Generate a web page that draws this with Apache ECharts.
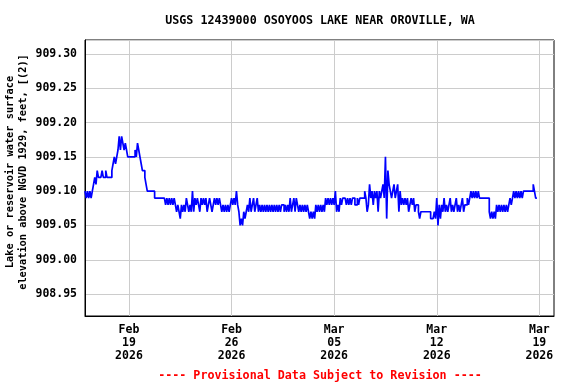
<!DOCTYPE html>
<html>
<head>
<meta charset="utf-8">
<script src="https://cdn.jsdelivr.net/npm/echarts@6/dist/echarts.min.js"></script>
<style>html,body{margin:0;padding:0;background:#fff}#c{width:576px;height:384px}</style>
</head>
<body>
<div id="c"></div>
<script>
// ---- DATA (2-hour readings, starting 2026-02-16 00:00) ----
const seriesStart = '2026-02-16';
const stepHours = 2;
const feb16_22 = [
909.10,909.09,909.10,909.09,909.10,909.09,909.10,909.11,909.12,909.11,909.13,909.12,
909.12,909.12,909.13,909.12,909.12,909.13,909.12,909.12,909.12,909.12,909.13,909.14,
909.15,909.14,909.15,909.16,909.18,909.16,909.18,909.17,909.16,909.17,909.16,909.15,
909.15,909.15,909.15,909.15,909.15,909.16,909.15,909.17,909.16,909.15,909.14,909.13,
909.13,909.12,909.11,909.10,909.10,909.10,909.10,909.10,909.10,909.09,909.09,909.09,
909.09,909.09,909.09,909.09,909.09,909.09,909.08,909.09,909.08,909.09,909.08,909.09,
909.08,909.09,909.08,909.07,909.08,909.07,909.06,909.08,909.07,909.08,909.07,909.09
];
const feb23_mar01 = [
909.08,909.07,909.08,909.07,909.10,909.07,909.09,909.08,909.09,909.08,909.07,909.09,
909.08,909.09,909.08,909.09,909.07,909.08,909.09,909.08,909.07,909.08,909.09,909.08,
909.09,909.08,909.09,909.08,909.07,909.08,909.07,909.08,909.07,909.08,909.07,909.08,
909.09,909.08,909.09,909.08,909.10,909.08,909.07,909.05,909.06,909.05,909.07,909.06,
909.07,909.08,909.07,909.09,909.07,909.08,909.09,909.07,909.08,909.09,909.07,909.08,
909.07,909.08,909.07,909.08,909.07,909.08,909.07,909.08,909.07,909.08,909.07,909.08,
909.07,909.08,909.07,909.08,909.07,909.08,909.08,909.07,909.08,909.07,909.08,909.07
];
const mar02_08 = [
909.09,909.07,909.08,909.09,909.07,909.09,909.08,909.07,909.08,909.07,909.08,909.07,
909.08,909.07,909.08,909.07,909.06,909.07,909.06,909.07,909.06,909.08,909.07,909.08,
909.07,909.08,909.07,909.08,909.07,909.09,909.08,909.09,909.08,909.09,909.08,909.09,
909.08,909.10,909.07,909.08,909.07,909.09,909.08,909.09,909.09,909.09,909.08,909.09,
909.08,909.09,909.08,909.09,909.09,909.08,909.08,909.09,909.08,909.09,909.09,909.09,
909.09,909.10,909.09,909.07,909.08,909.11,909.09,909.10,909.08,909.10,909.09,909.10,
909.07,909.10,909.09,909.10,909.11,909.09,909.15,909.06,909.13,909.11,909.10,909.09
];
const mar09_15 = [
909.10,909.11,909.09,909.10,909.11,909.07,909.10,909.08,909.09,909.08,909.09,909.08,
909.09,909.07,909.08,909.09,909.08,909.09,909.07,909.08,909.08,909.07,909.06,909.07,
909.07,909.07,909.07,909.07,909.07,909.07,909.07,909.06,909.06,909.06,909.07,909.06,
909.09,909.05,909.08,909.06,909.08,909.07,909.09,909.07,909.08,909.07,909.08,909.09,
909.07,909.08,909.07,909.08,909.09,909.07,909.08,909.07,909.08,909.09,909.07,909.08,
909.08,909.09,909.08,909.09,909.10,909.09,909.10,909.09,909.10,909.09,909.10,909.09,
909.09,909.09,909.09,909.09,909.09,909.09,909.09,909.07,909.06,909.07,909.06,909.07
];
const mar16_18 = [
909.06,909.08,909.07,909.08,909.07,909.08,909.07,909.08,909.07,909.08,909.07,909.08,
909.09,909.08,909.09,909.10,909.09,909.10,909.09,909.10,909.09,909.10,909.09,909.10,
909.10,909.10,909.10,909.10,909.10,909.10,909.10,909.11,909.10,909.09,909.09
];
const axisEnd = '2026-03-20';
const tickDates = ['2026-02-19','2026-02-26','2026-03-05','2026-03-12','2026-03-19'];
const yMin = 908.918, yMax = 909.3204;
const titleText = 'USGS 12439000 OSOYOOS LAKE NEAR OROVILLE, WA';
const footerText = '---- Provisional Data Subject to Revision ----';
const yName = 'Lake or reservoir water surface\nelevation above NGVD 1929, feet, [(2)]';

// ---- build ----
const values = [].concat(feb16_22, feb23_mar01, mar02_08, mar09_15, mar16_18);
const t0 = Date.parse(seriesStart + 'T00:00:00Z');
const t1 = Date.parse(axisEnd + 'T00:00:00Z');
const cats = [];
for (let t = t0; t <= t1; t += stepHours * 3600e3) {
  cats.push(new Date(t).toISOString().slice(0, 16));
}
const MON = ['Jan','Feb','Mar','Apr','May','Jun','Jul','Aug','Sep','Oct','Nov','Dec'];
const isTick = (idx, v) => v.endsWith('T00:00') && tickDates.indexOf(v.slice(0, 10)) >= 0;
const FONT = 'DejaVu Sans Mono';

const chart = echarts.init(document.getElementById('c'), null, {renderer: 'canvas'});
chart.setOption({
  animation: false,
  backgroundColor: '#ffffff',
  title: [
    {text: titleText, left: 315, top: 10, textAlign: 'center',
     textStyle: {fontFamily: FONT, fontWeight: 'bold', fontSize: 11.7, color: '#000'}},
    {text: footerText, left: 315, top: 365, textAlign: 'center',
     textStyle: {fontFamily: FONT, fontWeight: 'bold', fontSize: 11.7, color: '#ff0000'}}
  ],
  grid: {left: 85, right: 22, top: 40, bottom: 68, show: true, borderColor: '#000', borderWidth: 1,
         containLabel: false, outerBoundsMode: 'none'},
  xAxis: {
    type: 'category', data: cats, boundaryGap: false,
    axisLine: {show: true, lineStyle: {color: '#000', width: 1}},
    axisTick: {show: false},
    axisLabel: {
      interval: isTick, margin: 8, fontFamily: FONT, fontWeight: 'bold', fontSize: 11.5,
      lineHeight: 13, color: '#000',
      formatter: v => { const d = new Date(v + ':00Z');
        return MON[d.getUTCMonth()] + '\n' + String(d.getUTCDate()).padStart(2, '0') + '\n' + d.getUTCFullYear(); }
    },
    splitLine: {show: true, interval: isTick, lineStyle: {color: '#cccccc', width: 1}}
  },
  yAxis: {
    type: 'value', min: yMin, max: yMax, splitNumber: 8, scale: true,
    name: yName, nameLocation: 'middle', nameGap: 55, nameRotate: 90, nameMoveOverlap: false,
    nameTextStyle: {fontFamily: FONT, fontWeight: 'bold', fontSize: 10.3, lineHeight: 13, color: '#000',
                    padding: [0, 0, 0, 12]},
    axisLine: {show: true, lineStyle: {color: '#000', width: 1}},
    axisTick: {show: false},
    axisLabel: {margin: 8, fontFamily: FONT, fontWeight: 'bold', fontSize: 11.5, color: '#000',
                showMinLabel: false, showMaxLabel: false, formatter: v => v.toFixed(2)},
    splitLine: {show: true, lineStyle: {color: '#cccccc', width: 1}}
  },
  series: [{
    type: 'line', data: values, step: 'end', showSymbol: false, symbol: 'none',
    lineStyle: {color: '#0000ff', width: 1.7}, itemStyle: {color: '#0000ff'}
  }]
});
</script>
</body>
</html>
